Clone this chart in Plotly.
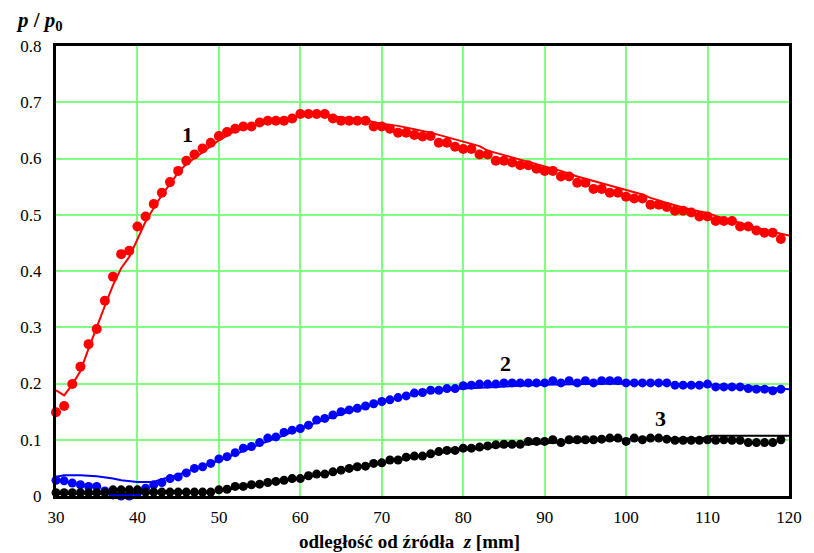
import plotly.graph_objects as go

# ---------------- data ----------------
z_pts = list(range(30, 120))

red_pts = [0.149, 0.160, 0.199, 0.230, 0.270, 0.297, 0.347, 0.390, 0.430, 0.436,
           0.479, 0.497, 0.519, 0.539, 0.558, 0.578, 0.596, 0.607, 0.618, 0.628,
           0.640, 0.647, 0.653, 0.657, 0.657, 0.664, 0.667, 0.667, 0.667, 0.671,
           0.679, 0.679, 0.679, 0.679, 0.671, 0.667, 0.667, 0.667, 0.667, 0.657,
           0.657, 0.653, 0.646, 0.646, 0.642, 0.639, 0.640, 0.628, 0.628, 0.621,
           0.617, 0.617, 0.607, 0.607, 0.596, 0.596, 0.593, 0.588, 0.588, 0.582,
           0.578, 0.578, 0.568, 0.568, 0.557, 0.557, 0.546, 0.546, 0.539, 0.539,
           0.532, 0.529, 0.529, 0.518, 0.518, 0.514, 0.507, 0.507, 0.504, 0.497,
           0.497, 0.489, 0.489, 0.489, 0.479, 0.479, 0.472, 0.468, 0.468, 0.457]

blue_pts = [0.028, 0.027, 0.023, 0.020, 0.017, 0.017, 0.009, 0.002, 0.000, 0.000,
            0.005, 0.014, 0.020, 0.024, 0.031, 0.034, 0.041, 0.049, 0.052, 0.058,
            0.066, 0.070, 0.077, 0.085, 0.088, 0.095, 0.103, 0.105, 0.113, 0.117,
            0.120, 0.126, 0.135, 0.138, 0.144, 0.150, 0.153, 0.156, 0.160, 0.164,
            0.168, 0.171, 0.175, 0.178, 0.183, 0.184, 0.188, 0.188, 0.191, 0.191,
            0.196, 0.197, 0.199, 0.199, 0.199, 0.201, 0.201, 0.201, 0.201, 0.201,
            0.201, 0.205, 0.201, 0.205, 0.201, 0.205, 0.201, 0.205, 0.205, 0.205,
            0.201, 0.201, 0.201, 0.201, 0.201, 0.201, 0.197, 0.197, 0.197, 0.197,
            0.199, 0.194, 0.194, 0.194, 0.194, 0.191, 0.190, 0.190, 0.187, 0.190]

black_pts = [0.006, 0.006, 0.006, 0.006, 0.006, 0.006, 0.006, 0.011, 0.011, 0.011,
             0.011, 0.007, 0.007, 0.007, 0.007, 0.007, 0.007, 0.007, 0.007, 0.007,
             0.011, 0.012, 0.017, 0.017, 0.020, 0.021, 0.024, 0.026, 0.028, 0.031,
             0.031, 0.036, 0.039, 0.039, 0.043, 0.046, 0.049, 0.052, 0.053, 0.058,
             0.059, 0.064, 0.064, 0.069, 0.071, 0.071, 0.075, 0.079, 0.081, 0.081,
             0.085, 0.085, 0.087, 0.089, 0.091, 0.092, 0.092, 0.092, 0.097, 0.097,
             0.097, 0.100, 0.095, 0.100, 0.100, 0.100, 0.100, 0.101, 0.103, 0.103,
             0.097, 0.103, 0.100, 0.103, 0.103, 0.101, 0.099, 0.099, 0.099, 0.099,
             0.100, 0.099, 0.100, 0.099, 0.099, 0.095, 0.095, 0.095, 0.095, 0.100]

z_red_line = [30, 31, 32, 33, 34, 35, 36, 37, 38, 39, 40, 41, 42, 43, 44, 45, 46, 47,
              48, 49, 50, 52, 54, 56, 58, 60, 63, 64, 66, 68, 70, 72, 74, 76, 78, 80,
              82, 83, 85, 88, 90, 92, 94, 96, 98, 100, 102, 103, 105, 108, 110, 111,
              114, 117, 120]
red_line = [0.188, 0.179, 0.198, 0.222, 0.262, 0.301, 0.338, 0.375, 0.405, 0.425,
            0.458, 0.488, 0.512, 0.535, 0.555, 0.575, 0.590, 0.600, 0.611, 0.622,
            0.632, 0.649, 0.658, 0.664, 0.669, 0.677, 0.679, 0.675, 0.671, 0.668,
            0.662, 0.658, 0.652, 0.646, 0.638, 0.630, 0.622, 0.614, 0.606, 0.595,
            0.586, 0.578, 0.568, 0.560, 0.551, 0.543, 0.536, 0.530, 0.521, 0.509,
            0.503, 0.498, 0.485, 0.473, 0.463]

z_blue_line = [30, 31, 33, 35, 37, 38, 40, 42, 43, 45, 47, 50, 53, 55, 58, 60, 63, 66,
               70, 73, 76, 78, 80, 84, 90, 95, 100, 105, 110, 115, 120]
blue_line = [0.034, 0.037, 0.037, 0.035, 0.031, 0.028, 0.025, 0.025, 0.030, 0.038,
             0.048, 0.063, 0.080, 0.092, 0.108, 0.120, 0.136, 0.150, 0.167, 0.178,
             0.186, 0.189, 0.191, 0.194, 0.198, 0.199, 0.200, 0.199, 0.198, 0.195,
             0.190]

z_black_line = [30, 40, 48, 50, 55, 60, 65, 70, 75, 80, 85, 90, 95, 100, 105, 109.5,
                110.5, 120]
black_line = [0.004, 0.005, 0.006, 0.009, 0.020, 0.031, 0.045, 0.058, 0.072, 0.082,
              0.089, 0.094, 0.098, 0.101, 0.102, 0.103, 0.107, 0.107]

curve_labels = ["1", "2", "3"]
label_z = [46.1, 85.2, 104.2]
label_p = [0.642, 0.236, 0.138]

x_ticks = [30, 40, 50, 60, 70, 80, 90, 100, 110, 120]
y_ticks = [0, 0.1, 0.2, 0.3, 0.4, 0.5, 0.6, 0.7, 0.8]
y_tick_text = ["0", "0.1", "0.2", "0.3", "0.4", "0.5", "0.6", "0.7", "0.8"]

# ---------------- figure ----------------
SERIF = "Liberation Serif"
fig = go.Figure()

series = [
    (red_pts, z_red_line, red_line, "#ff0000", 10),
    (blue_pts, z_blue_line, blue_line, "#0000ff", 9),
    (black_pts, z_black_line, black_line, "#000000", 9),
]
for pts, zl, ln, col, ms in series:
    fig.add_trace(go.Scatter(x=z_pts, y=pts, mode="markers",
                             marker=dict(color=col, size=ms, line=dict(width=0)),
                             showlegend=False, cliponaxis=False))
    fig.add_trace(go.Scatter(x=zl, y=ln, mode="lines",
                             line=dict(color=col, width=2),
                             showlegend=False))

for t, zx, py in zip(curve_labels, label_z, label_p):
    fig.add_annotation(x=zx, y=py, text="<b>" + t + "</b>", showarrow=False,
                       font=dict(family=SERIF, size=22, color="black"))

fig.add_annotation(xref="paper", yref="paper", x=-0.057, y=1.0, yshift=10,
                   xanchor="left", yanchor="bottom",
                   text="<b><i>p</i> / <i>p</i><sub>0</sub></b>", showarrow=False,
                   font=dict(family=SERIF, size=21, color="black"))

fig.add_annotation(xref="paper", yref="paper", x=0.482, y=0, yshift=-33,
                   xanchor="center", yanchor="top",
                   text="<b>odległość od źródła  <i>z</i> [mm]</b>", showarrow=False,
                   font=dict(family=SERIF, size=19, color="black"))

fig.update_xaxes(range=[30, 120], tickvals=x_ticks, showgrid=True,
                 gridcolor="#80ff80", gridwidth=2, zeroline=False,
                 showline=True, linecolor="black", linewidth=3, mirror=True,
                 ticks="", ticklabelstandoff=4,
                 tickfont=dict(family=SERIF, size=17, color="black"))
fig.update_yaxes(range=[0, 0.8], tickvals=y_ticks, ticktext=y_tick_text,
                 showgrid=True, gridcolor="#80ff80", gridwidth=2, zeroline=False,
                 showline=True, linecolor="black", linewidth=3, mirror=True,
                 ticks="", ticklabelstandoff=8,
                 tickfont=dict(family=SERIF, size=17, color="black"))

# page body has an 8px default margin, so the figure is offset by (8, 8)
fig.update_layout(width=806, height=545,
                  margin=dict(l=45, r=20, t=38, b=57),
                  plot_bgcolor="white", paper_bgcolor="white",
                  showlegend=False)

fig.write_html("out.html")
